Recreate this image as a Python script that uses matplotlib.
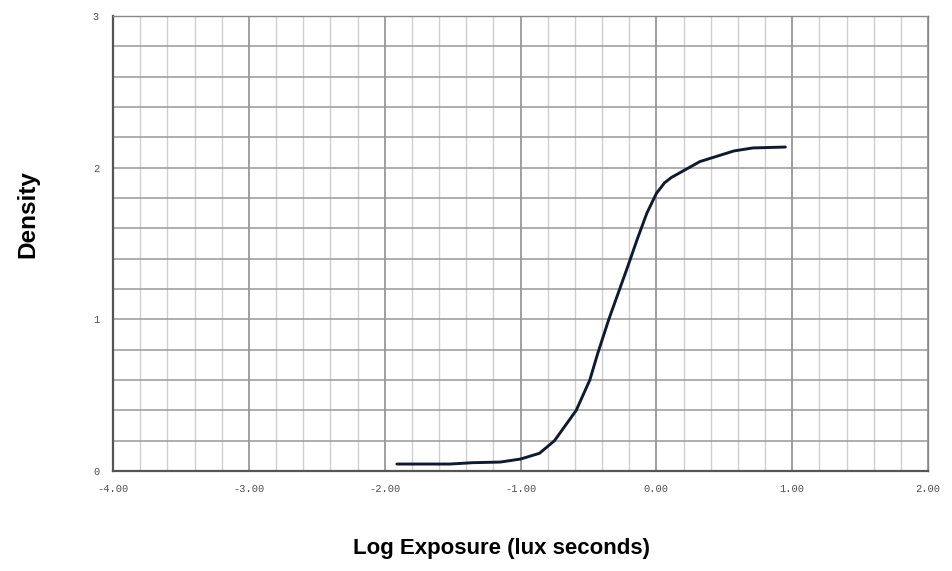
import matplotlib
matplotlib.use("Agg")
import matplotlib.pyplot as plt
import numpy as np

# characteristic curve
log_exposure = [-1.91, -1.52, -1.35, -1.15, -1.00, -0.86, -0.75, -0.59, -0.49,
                -0.43, -0.35, -0.27, -0.21, -0.14, -0.07, 0.00, 0.06, 0.11,
                0.17, 0.32, 0.57, 0.71, 0.95]
density = [0.046, 0.046, 0.055, 0.059, 0.079, 0.117, 0.20, 0.40, 0.60,
           0.78, 1.00, 1.20, 1.35, 1.53, 1.70, 1.83, 1.90, 1.935,
           1.965, 2.04, 2.11, 2.13, 2.136]

x_ticks = [-4, -3, -2, -1, 0, 1, 2]
x_ticklabels = ["-4.00", "-3.00", "-2.00", "-1.00", "0.00", "1.00", "2.00"]
y_ticks = [0, 1, 2, 3]

fig = plt.figure(figsize=(9.53, 5.71), dpi=100)
ax = fig.add_axes([0.1186, 0.1751, 0.8552, 0.7969])

ax.set_xlim(-4, 2)
ax.set_ylim(0, 3)

# grid: minor every 0.2 on x (light), major on integers (darker); y every 0.2
ax.set_xticks(x_ticks)
ax.set_xticklabels(x_ticklabels)
ax.set_xticks(np.arange(-4, 2.01, 0.2), minor=True)
ax.set_yticks(y_ticks)
ax.set_yticks(np.arange(0, 3.01, 0.2), minor=True)
ax.grid(which="minor", axis="x", color="#cfcfcf", lw=1.0)
ax.grid(which="major", axis="x", color="#858585", lw=1.1)
ax.grid(which="minor", axis="y", color="#999999", lw=1.1)
ax.grid(which="major", axis="y", color="#999999", lw=1.1)
ax.set_axisbelow(True)

ax.plot(log_exposure, density, color="#0e1a30", lw=2.1,
        solid_capstyle="round", solid_joinstyle="round")

for s in ["left", "bottom"]:
    ax.spines[s].set_color("#555555")
    ax.spines[s].set_linewidth(1.6)
for s in ["top", "right"]:
    ax.spines[s].set_color("#888888")
    ax.spines[s].set_linewidth(1.0)

ax.tick_params(which="both", length=0)
ax.tick_params(axis="x", pad=9, labelsize=7.5, labelcolor="#505050")
ax.tick_params(axis="y", pad=10, labelsize=7.5, labelcolor="#505050")
for lab in ax.get_xticklabels() + ax.get_yticklabels():
    lab.set_family("Liberation Mono")

fig.text(0.029, 0.625, "Density", rotation=90, ha="center", va="center",
         fontsize=17.5, fontweight="bold", family="Liberation Sans")
fig.text(0.526, 0.040, "Log Exposure (lux seconds)", ha="center", va="center",
         fontsize=16, fontweight="bold", family="Liberation Sans")

fig.savefig("out.png", dpi=100, facecolor="white")
